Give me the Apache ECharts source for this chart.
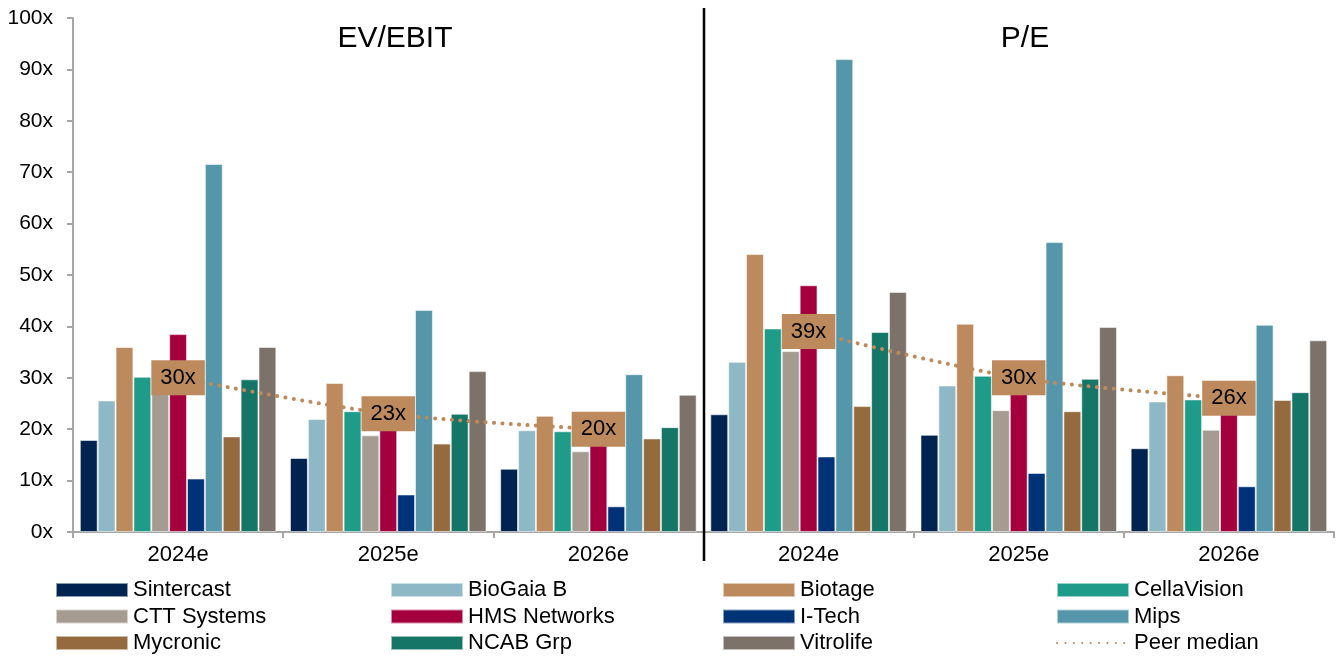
<!DOCTYPE html>
<html>
<head>
<meta charset="utf-8">
<script src="https://cdn.jsdelivr.net/npm/echarts@6/dist/echarts.min.js"></script>
<style>
  html, body { margin: 0; padding: 0; background: #fff; }
  #chart { width: 1342px; height: 657px; }
</style>
</head>
<body>
<div id="chart"></div>
<script>
var years = ['2024e', '2025e', '2026e'];
var categories = years.concat(years);

var companies = ['Sintercast', 'BioGaia B', 'Biotage', 'CellaVision', 'CTT Systems', 'HMS Networks',
  'I-Tech', 'Mips', 'Mycronic', 'NCAB Grp', 'Vitrolife'];
var colors = ['#00234f', '#8fb8c6', '#bd8a5e', '#1e9c89', '#a59b91', '#a5003e',
  '#003278', '#5596ab', '#966a3f', '#157567', '#7d726a'];

// EV/EBIT 2024e-2026e, then P/E 2024e-2026e
var sintercast  = [17.9, 14.4, 12.3, 22.9, 18.9, 16.3];
var biogaia     = [25.6, 22.0, 19.8, 33.1, 28.5, 25.4];
var biotage     = [36.0, 29.0, 22.6, 54.1, 40.5, 30.5];
var cellavision = [30.2, 23.5, 19.6, 39.6, 30.4, 25.8];
var ctt         = [28.5, 18.8, 15.7, 35.2, 23.7, 19.9];
var hms         = [38.5, 20.0, 17.5, 48.0, 27.0, 23.0];
var itech       = [10.4, 7.3, 5.0, 14.7, 11.5, 8.9];
var mips        = [71.6, 43.2, 30.7, 92.0, 56.4, 40.3];
var mycronic    = [18.6, 17.2, 18.2, 24.5, 23.5, 25.7];
var ncab        = [29.7, 23.0, 20.4, 38.9, 29.8, 27.2];
var vitrolife   = [36.0, 31.3, 26.7, 46.7, 39.9, 37.3];
var barValues = [sintercast, biogaia, biotage, cellavision, ctt, hms, itech, mips, mycronic, ncab, vitrolife];

var peerEvEbit = [30, 23, 20];
var peerPe = [39, 30, 26];

var legendColumns = [
  ['Sintercast', 'CTT Systems', 'Mycronic'],
  ['BioGaia B', 'HMS Networks', 'NCAB Grp'],
  ['Biotage', 'I-Tech', 'Vitrolife'],
  ['CellaVision', 'Mips', 'Peer median']
];
var legendLefts = [55, 390, 722, 1056];

var font = "'Liberation Sans', Arial, Helvetica, sans-serif";
var axisGrey = '#a6a6a6';
var peerColor = '#bd8a5e';

var chart = echarts.init(document.getElementById('chart'));

var series = companies.map(function (name, i) {
  return {
    name: name,
    type: 'bar',
    barGap: '0%',
    barCategoryGap: '6.5%',
    itemStyle: { color: colors[i], borderColor: 'rgba(255,255,255,0.55)', borderWidth: 1 },
    data: barValues[i],
    z: 2
  };
});

function peerSeries(values, offset) {
  var data = categories.map(function (c, idx) {
    var k = idx - offset;
    return (k >= 0 && k < values.length) ? values[k] : '-';
  });
  return {
    name: 'Peer median',
    type: 'line',
    data: data,
    smooth: 0.3,
    symbol: 'circle',
    symbolSize: 0,
    itemStyle: { color: 'rgba(0,0,0,0)' },
    lineStyle: { color: peerColor, width: 4, type: [0.1, 8.3], cap: 'round' },
    label: {
      show: true,
      position: 'inside',
      formatter: '{c}x',
      backgroundColor: peerColor,
      color: '#000',
      fontFamily: font,
      fontSize: 22,
      lineHeight: 23,
      padding: [6, 9]
    },
    z: 5
  };
}
series.push(peerSeries(peerEvEbit, 0));
series.push(peerSeries(peerPe, 3));

var legends = legendColumns.map(function (names, i) {
  return {
    orient: 'vertical',
    left: legendLefts[i],
    top: 579,
    itemWidth: 72,
    itemHeight: 14,
    itemGap: 4.5,
    selectedMode: false,
    padding: 0,
    data: names.map(function (n) {
      return n === 'Peer median' ? { name: n } : { name: n, icon: 'rect' };
    }),
    textStyle: { fontFamily: font, fontSize: 22, color: '#000' }
  };
});

chart.setOption({
  animation: false,
  backgroundColor: '#fff',
  title: [
    { text: 'EV/EBIT', left: 390, top: 19, textAlign: 'center',
      textStyle: { fontFamily: font, fontSize: 30, fontWeight: 'normal', color: '#000' } },
    { text: 'P/E', left: 1020, top: 19, textAlign: 'center',
      textStyle: { fontFamily: font, fontSize: 30, fontWeight: 'normal', color: '#000' } }
  ],
  legend: legends,
  grid: { left: 73, right: 8, top: 18, bottom: 125, containLabel: false },
  xAxis: {
    type: 'category',
    data: categories,
    axisLine: { lineStyle: { color: axisGrey, width: 2 } },
    axisTick: { show: true, length: 6, interval: 0, lineStyle: { color: axisGrey, width: 2 } },
    axisLabel: { interval: 0, margin: 12, fontFamily: font, fontSize: 22, color: '#000' }
  },
  yAxis: {
    type: 'value',
    min: 0,
    max: 100,
    interval: 10,
    axisLine: { show: true, lineStyle: { color: axisGrey, width: 2 } },
    axisTick: { show: true, length: 6, lineStyle: { color: axisGrey, width: 2 } },
    splitLine: { show: false },
    axisLabel: { formatter: '{value}x', margin: 20, fontFamily: font, fontSize: 21, color: '#000' }
  },
  series: series
});

// black divider between the EV/EBIT and P/E halves
var xLeft = chart.convertToPixel({ xAxisIndex: 0 }, 2);
var xRight = chart.convertToPixel({ xAxisIndex: 0 }, 3);
var xMid = Math.round((xLeft + xRight) / 2);
chart.setOption({
  graphic: [{
    type: 'line',
    shape: { x1: xMid, y1: 8, x2: xMid, y2: 561 },
    style: { stroke: '#000', lineWidth: 2.5 },
    z: 10
  }]
});
</script>
</body>
</html>
